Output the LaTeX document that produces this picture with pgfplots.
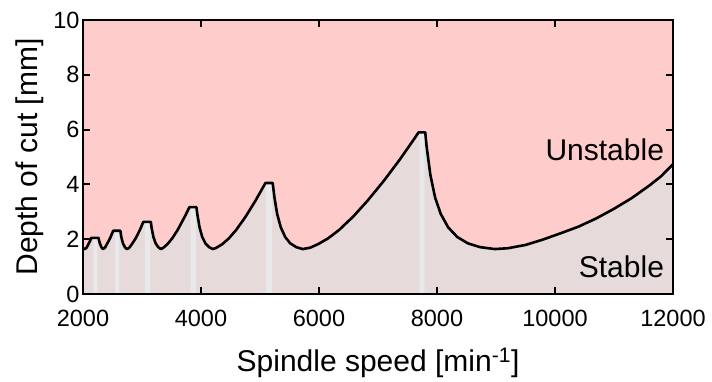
\documentclass[border=0pt]{standalone}
\usepackage{pgfplots}
\pgfplotsset{compat=1.18}
\usepackage{pgfplotstable}
\usepackage{fontspec}
\setmainfont{Liberation Sans}
\definecolor{pinkc}{RGB}{255,204,204}
\definecolor{stablec}{RGB}{230,218,218}
\definecolor{stripec}{RGB}{233,233,233}
\pgfplotstableread{
n a
2000 1.66
2030 1.64
2060 1.69
2093 1.82
2120 1.94
2140 2.05
2262 2.05
2285 1.85
2312 1.71
2337 1.64
2370 1.685
2406 1.82
2458 2.03
2512 2.31
2633 2.31
2649 2.08
2677 1.85
2710 1.71
2742 1.64
2780 1.68
2829 1.82
2892 2.03
2965 2.34
3022 2.63
3150 2.63
3162 2.43
3194 2.08
3231 1.85
3275 1.71
3318 1.64
3360 1.685
3432 1.82
3512 2.03
3605 2.34
3724 2.82
3805 3.17
3922 3.17
3937 2.92
3976 2.43
4021 2.08
4074 1.85
4137 1.71
4200 1.64
4255 1.68
4362 1.82
4472 2.03
4597 2.34
4755 2.82
4922 3.40
5092 4.05
5215 4.05
5245 3.52
5291 2.92
5353 2.43
5427 2.08
5512 1.85
5614 1.71
5725 1.64
5850 1.69
5985 1.82
6154 2.03
6342 2.34
6577 2.82
6821 3.40
7102 4.14
7364 4.89
7613 5.66
7688 5.90
7801 5.90
7823 5.40
7888 4.34
7968 3.52
8064 2.92
8190 2.43
8344 2.08
8522 1.85
8731 1.71
8980 1.64
9200 1.67
9500 1.79
9800 1.99
10100 2.22
10400 2.46
10700 2.76
11000 3.11
11300 3.50
11600 3.96
11800 4.30
12000 4.74
}\lobes
\begin{document}
\begin{tikzpicture}
\begin{axis}[
  width=590pt, height=274pt, scale only axis,
  xmin=2000, xmax=12000, ymin=0, ymax=10,
  xtick={2000,4000,6000,8000,10000,12000},
  ytick={0,2,4,6,8,10},
  tick align=inside, major tick length=7pt,
  axis line style={line width=2pt},
  every tick/.style={line width=2pt, black},
  /pgf/number format/assume math mode=true,
  /pgf/number format/1000 sep={},
  scaled x ticks=false,
  tick label style={font=\fontsize{23.5}{28}\selectfont},
  xticklabel style={yshift=-13pt},
  label style={font=\fontsize{30}{36}\selectfont},
  xlabel={Spindle speed [min\textsuperscript{-1}]},
  ylabel={Depth of cut [mm]},
  xlabel style={yshift=-14pt},
  ylabel style={yshift=3pt},
  axis background/.style={fill=pinkc},
  axis on top,
]
\addplot[fill=stablec, draw=none] table[x=n, y=a] {\lobes} \closedcycle;
\addplot[fill=stripec, draw=none] coordinates {(2175,0) (2175,2.05) (2242,2.05) (2242,0)} \closedcycle;
\addplot[fill=stripec, draw=none] coordinates {(2542,0) (2542,2.31) (2615,2.31) (2615,0)} \closedcycle;
\addplot[fill=stripec, draw=none] coordinates {(3050,0) (3050,2.63) (3140,2.63) (3140,0)} \closedcycle;
\addplot[fill=stripec, draw=none] coordinates {(3825,0) (3825,3.17) (3912,3.17) (3912,0)} \closedcycle;
\addplot[fill=stripec, draw=none] coordinates {(5105,0) (5105,4.05) (5200,4.05) (5200,0)} \closedcycle;
\addplot[fill=stripec, draw=none] coordinates {(7700,0) (7700,5.90) (7790,5.90) (7790,0)} \closedcycle;
\addplot[black, line width=2.6pt, line join=round] table[x=n, y=a] {\lobes};
\node[anchor=east, inner sep=0pt, font=\fontsize{30}{36}\selectfont] at (axis cs:11850,5.26) {Unstable};
\node[anchor=east, inner sep=0pt, font=\fontsize{30}{36}\selectfont] at (axis cs:11850,1.0) {Stable};
\end{axis}
\path (current axis.south west) ++(-83pt,-82pt);
\path (current axis.north east) ++(39pt,20pt);
\end{tikzpicture}
\end{document}
